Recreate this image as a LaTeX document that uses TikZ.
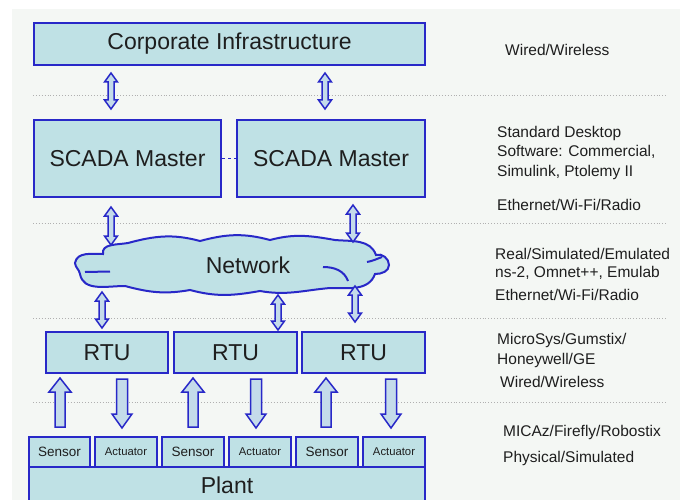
\documentclass[tikz,border=0pt]{standalone}
\usepackage{fontspec}
\setmainfont{Liberation Sans}
\definecolor{boxfill}{HTML}{BFE1E5}
\definecolor{boxline}{HTML}{2828C8}
\definecolor{arrfill}{HTML}{C4DBEA}
\definecolor{pagebg}{HTML}{F4F7F4}
\definecolor{sepline}{HTML}{B0B0B0}
\definecolor{ink}{HTML}{1E1E1E}

% vertical two-headed block arrow: x, top, bottom (distances measured downwards)
\newcommand\dblarrow[3]{%
  \draw[arr] (#1,-#2) -- ({#1+6.5},{-#2-9}) -- ({#1+3},{-#2-9}) -- ({#1+3},{-#3+9})
    -- ({#1+6.5},{-#3+9}) -- (#1,-#3) -- ({#1-6.5},{-#3+9}) -- ({#1-3},{-#3+9})
    -- ({#1-3},{-#2-9}) -- ({#1-6.5},{-#2-9}) -- cycle;}
% upward block arrow (sensor reading): x, tip, tail
\newcommand\sensup[3]{%
  \draw[arr] (#1,-#2) -- ({#1+11},{-#2-14}) -- ({#1+5},{-#2-14}) -- ({#1+5},-#3)
    -- ({#1-5},-#3) -- ({#1-5},{-#2-14}) -- ({#1-11},{-#2-14}) -- cycle;}
% downward block arrow (actuator command): x, tail, tip
\newcommand\actdown[3]{%
  \draw[arr] (#1,-#3) -- ({#1+10},{-#3+14}) -- ({#1+5.5},{-#3+14}) -- ({#1+5.5},-#2)
    -- ({#1-5.5},-#2) -- ({#1-5.5},{-#3+14}) -- ({#1-10},{-#3+14}) -- cycle;}

\begin{document}
\begin{tikzpicture}[x=1pt,y=1pt,
  block/.style={draw=boxline, fill=boxfill, line width=2pt, inner sep=0pt, text=ink,
    font=\fontsize{23}{27}\selectfont},
  sensbox/.style={block, minimum width=61pt, minimum height=30pt, font=\fontsize{13.5}{16}\selectfont},
  actbox/.style={block, minimum width=61pt, minimum height=30pt, font=\fontsize{11.3}{14}\selectfont},
  rtubox/.style={block, minimum width=122pt, minimum height=41pt},
  arr/.style={draw=boxline, fill=arrfill, line width=1.5pt, line join=miter},
  sep/.style={draw=sepline, dotted, line width=0.9pt},
  note/.style={anchor=west, inner sep=0pt, text=ink, align=left,
    font=\fontsize{15.5}{19.5}\selectfont}]

\useasboundingbox (0,0) rectangle (688,-500);
\clip (0,0) rectangle (688,-500);
\fill[white] (0,0) rectangle (688,-500);
\fill[pagebg] (12,-9) rectangle (680,-500);

% layer separators
\draw[sep] (33,-95) -- (668,-95);
\draw[sep] (33,-223) -- (668,-223);
\draw[sep] (33,-318) -- (668,-318);
\draw[sep] (33,-402) -- (668,-402);

% corporate and SCADA level
\node[block, minimum width=391pt, minimum height=42pt] (corp) at (229.5,-44) {Corporate Infrastructure};
\node[block, minimum width=187pt, minimum height=77pt] (sl) at (127.5,-158.5) {SCADA Master};
\node[block, minimum width=188pt, minimum height=77pt] (sr) at (331,-158.5) {SCADA Master};
\draw[boxline, dashed, line width=0.8pt] (sl.east) -- (sr.west);

% network cloud
\draw[draw=boxline, fill=boxfill, line width=2pt]
  (75,-263) to[out=80,in=180] (103,-254)
  to[out=100,in=190] (128,-243)
  to[out=15,in=165] (200,-241)
  to[out=15,in=165] (270,-240)
  to[out=15,in=170] (335,-240)
  to[out=-5,in=110] (376,-255)
  to[out=20,in=90] (389,-265)
  to[out=-90,in=0] (375,-274)
  to[out=-110,in=0] (330,-288)
  to[out=185,in=-10] (260,-291)
  to[out=190,in=-15] (190,-290)
  to[out=190,in=-15] (125,-286)
  to[out=180,in=-80] (80,-274)
  to[out=100,in=-85] (75,-263) -- cycle;
\draw[boxline, line width=2pt] (85,-272) to[out=0,in=180] (110,-271.5);
\draw[boxline, line width=2pt] (323,-267) to[out=0,in=110] (348,-281);
\draw[boxline, line width=2pt] (367,-262) to[out=10,in=200] (382,-257);
\node[inner sep=0pt, text=ink, font=\fontsize{23}{27}\selectfont] (net) at (248,-265) {Network};

% remote terminal units
\node[rtubox] (rtua) at (107,-352.5) {RTU};
\node[rtubox, minimum width=123pt] (rtub) at (235.5,-352.5) {RTU};
\node[rtubox, minimum width=123pt] (rtuc) at (363.5,-352.5) {RTU};

% field devices and plant
\node[sensbox] (sa) at (59.5,-452) {Sensor};
\node[actbox, minimum width=62pt] (aa) at (126,-452) {Actuator};
\node[sensbox, minimum width=62pt] (sb) at (193,-452) {Sensor};
\node[actbox, minimum width=62pt] (ab) at (260,-452) {Actuator};
\node[sensbox, minimum width=62pt] (sc) at (327,-452) {Sensor};
\node[actbox, minimum width=62pt] (ac) at (394,-452) {Actuator};
\node[block, minimum width=396pt, minimum height=44pt] (plant) at (227,-489) {};
\node[inner sep=0pt, text=ink, font=\fontsize{23}{27}\selectfont] (plantlbl) at (227,-485) {Plant};

% links between levels
\dblarrow{111}{73}{109}
\dblarrow{325}{73}{109}
\dblarrow{111}{207}{245}
\dblarrow{353}{205}{242}
\dblarrow{102}{292}{328}
\dblarrow{278}{295}{330}
\dblarrow{355}{286}{322}
\sensup{60}{378}{427}
\actdown{122}{379}{428}
\sensup{193}{378}{427}
\actdown{256}{379}{428}
\sensup{326}{378}{427}
\actdown{391}{379}{428}

% implementation notes per layer
\node[note] (n1) at (505,-50) {Wired/Wireless};
\node[note] (n2) at (497,-152.5) {Standard Desktop\\Software: Commercial,\\Simulink, Ptolemy II};
\node[note] (n3) at (497,-205) {Ethernet/Wi-Fi/Radio};
\node[note, font=\fontsize{15.5}{18}\selectfont] (n4) at (495,-264) {Real/Simulated/Emulated\\ns-2, Omnet++, Emulab};
\node[note] (n5) at (495,-295) {Ethernet/Wi-Fi/Radio};
\node[note, font=\fontsize{15.5}{20}\selectfont] (n6) at (497,-350) {MicroSys/Gumstix/\\Honeywell/GE};
\node[note] (n7) at (500,-382) {Wired/Wireless};
\node[note] (n8) at (503,-432) {MICAz/Firefly/Robostix};
\node[note] (n9) at (503,-458) {Physical/Simulated};
\end{tikzpicture}
\end{document}
